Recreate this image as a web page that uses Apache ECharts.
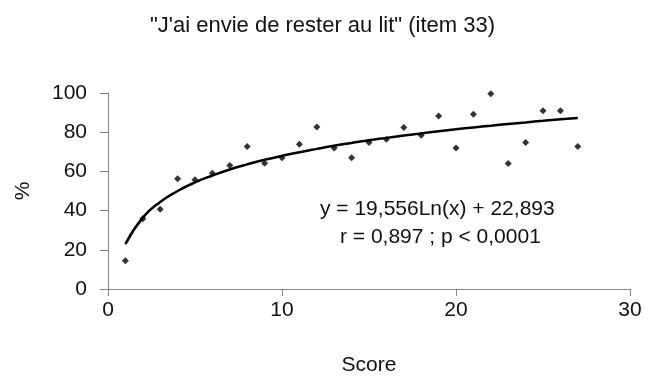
<!DOCTYPE html>
<html>
<head>
<meta charset="utf-8">
<script src="https://cdn.jsdelivr.net/npm/echarts@6/dist/echarts.min.js"></script>
<style>
  html, body { margin: 0; padding: 0; background: #fff; }
  #chart { width: 645px; height: 381px; }
</style>
</head>
<body>
<div id="chart"></div>
<script>
// scores (x) and observed percentages
var scores = [1, 2, 3, 4, 5, 6, 7, 8, 9, 10, 11, 12, 13, 14, 15, 16, 17, 18, 19, 20, 21, 22, 23, 24, 25, 26, 27];
var percents = [14.4, 35.8, 40.7, 56.3, 55.8, 59.1, 63, 72.7, 64.2, 67, 73.9, 82.6, 71.9, 67, 74.7, 76.4, 82.4, 78.4, 88.3, 71.9, 89.1, 99.6, 64, 74.7, 91, 91, 72.7];
// logarithmic trend line
var trend = [22.9, 36.4, 44.4, 50.0, 54.4, 57.9, 61.0, 63.6, 65.9, 67.9, 69.8, 71.5, 73.1, 74.5, 75.9, 77.1, 78.3, 79.4, 80.5, 81.5, 82.4, 83.3, 84.2, 85.0, 85.8, 86.6, 87.3];
var xTicks = [0, 10, 20, 30];
var yTicks = [0, 20, 40, 60, 80, 100];

var font = "Liberation Sans, Arial, sans-serif";
var axisGray = "#858585";

var chart = echarts.init(document.getElementById("chart"));

var option = {
  animation: false,
  title: {
    text: "\"J'ai envie de rester au lit\" (item 33)",
    left: "center",
    top: 10,
    textStyle: { fontFamily: font, fontSize: 22, fontWeight: "normal", color: "#111" }
  },
  grid: { left: 108, right: 15, top: 93, bottom: 89 },
  xAxis: {
    type: "value",
    min: 0,
    max: 30,
    interval: 10,
    name: "Score",
    nameLocation: "middle",
    nameGap: 66,
    nameTextStyle: { fontFamily: font, fontSize: 21, color: "#111" },
    axisLine: { onZero: false, lineStyle: { color: axisGray, width: 1 } },
    axisTick: { show: true, length: 7, lineStyle: { color: axisGray } },
    axisLabel: {
      margin: 11,
      fontFamily: font, fontSize: 21, color: "#111",
      formatter: function (v) { return xTicks.indexOf(v) >= 0 ? String(v) : ""; }
    },
    splitLine: { show: false }
  },
  yAxis: {
    type: "value",
    min: 0,
    max: 100,
    interval: 20,
    name: "%",
    nameLocation: "middle",
    nameGap: 74,
    nameRotate: 90,
    nameTextStyle: { fontFamily: font, fontSize: 21, color: "#111" },
    axisLine: { show: true, lineStyle: { color: axisGray, width: 1 } },
    axisTick: { show: true, length: 8, lineStyle: { color: axisGray } },
    axisLabel: {
      margin: 21,
      fontFamily: font, fontSize: 21, color: "#111",
      formatter: function (v) { return yTicks.indexOf(v) >= 0 ? String(v) : ""; }
    },
    splitLine: { show: false }
  },
  graphic: [
    {
      type: "text",
      left: 320,
      top: 199,
      style: {
        text: "y = 19,556Ln(x) + 22,893",
        font: "21px " + font,
        fill: "#111"
      }
    },
    {
      type: "text",
      left: 340,
      top: 227,
      style: {
        text: "r = 0,897 ; p < 0,0001",
        font: "21px " + font,
        fill: "#111"
      }
    }
  ],
  series: [
    {
      type: "line",
      data: scores.map(function (x, i) { return [x, trend[i]]; }),
      showSymbol: false,
      smooth: true,
      lineStyle: { color: "#000", width: 2.5 },
      z: 2
    },
    {
      type: "scatter",
      data: scores.map(function (x, i) { return [x, percents[i]]; }),
      symbol: "diamond",
      symbolSize: 7,
      itemStyle: { color: "#000" },
      z: 3
    }
  ]
};

chart.setOption(option);
</script>
</body>
</html>
